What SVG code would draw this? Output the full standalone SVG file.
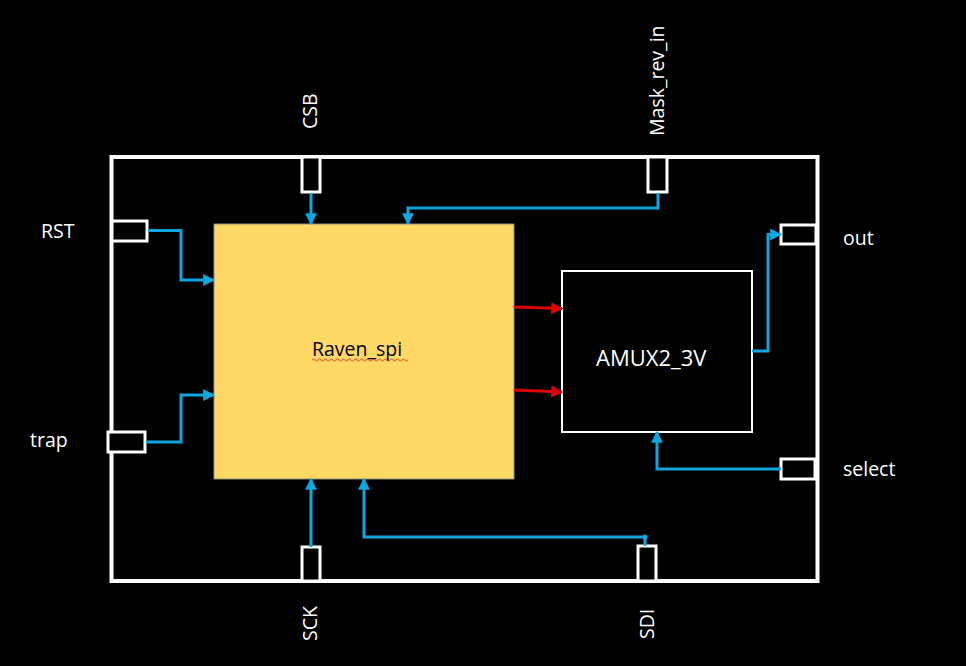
<svg xmlns="http://www.w3.org/2000/svg" width="966" height="666" viewBox="0 0 966 666">
<style>
.bg{fill:#000}
.frame{fill:none;stroke:#fff;stroke-width:4}
.pin{fill:#000;stroke:#fff;stroke-width:3}
.lbl{fill:#fff;font-family:"Open Sans","Liberation Sans",sans-serif;font-size:19.5px}
.blk{fill:#000;font-family:"Open Sans","Liberation Sans",sans-serif;font-size:19.5px}
.wire{fill:none;stroke:#0FA6E0;stroke-width:3;marker-end:url(#ab)}
.red{fill:none;stroke:#E00000;stroke-width:3;marker-end:url(#ar)}
</style>
<defs>
<marker id="ab" viewBox="0 0 10 10" refX="9" refY="5" markerWidth="4" markerHeight="4" orient="auto" markerUnits="strokeWidth"><path d="M0,0 L10,5 L0,10 z" fill="#0FA6E0"/></marker>
<marker id="ar" viewBox="0 0 10 10" refX="9" refY="5" markerWidth="4" markerHeight="4" orient="auto" markerUnits="strokeWidth"><path d="M0,0 L10,5 L0,10 z" fill="#E00000"/></marker>
</defs>
<rect class="bg" x="0" y="0" width="966" height="666"/>
<g id="frame"><rect class="frame" x="111.5" y="157" width="706" height="424"/></g>
<g id="raven_spi">
<rect x="214" y="224" width="300" height="255" fill="#FFD966" stroke="#8a8f7a" stroke-width="1"/>
<text class="blk" x="312" y="356">Raven_spi</text>
<path d="M312,360 q1.5,-2 3,0 t3,0 t3,0 t3,0 t3,0 t3,0 t3,0 t3,0 t3,0 t3,0 t3,0 t3,0 t3,0 t3,0 t3,0 t3,0 t3,0 t3,0 t3,0 t3,0 t3,0 t3,0 t3,0 t3,0 t3,0 t3,0 t3,0 t3,0 t3,0 t3,0 t3,0 t3,0" fill="none" stroke="#e02020" stroke-width="0.8"/>
</g>
<g id="amux"><rect x="562" y="271" width="190" height="161" fill="#000" stroke="#fff" stroke-width="2"/>
<text class="lbl" x="596" y="366" style="font-size:22px">AMUX2_3V</text></g>
<g id="pin_csb"><rect class="pin" x="302" y="157" width="18" height="35"/><text class="lbl" transform="translate(317,129) rotate(-90)">CSB</text></g>
<g id="pin_mask"><rect class="pin" x="648" y="157" width="19" height="35"/><text class="lbl" transform="translate(664,136) rotate(-90)">Mask_rev_in</text></g>
<g id="pin_rst"><rect class="pin" x="112" y="221" width="35" height="20"/><text class="lbl" x="41" y="238">RST</text></g>
<g id="pin_trap"><rect class="pin" x="108" y="432" width="37" height="20"/><text class="lbl" x="30" y="447">trap</text></g>
<g id="pin_out"><rect class="pin" x="781" y="225" width="35" height="19"/><text class="lbl" x="843" y="245">out</text></g>
<g id="pin_select"><rect class="pin" x="781" y="459" width="34" height="20"/><text class="lbl" x="843" y="476">select</text></g>
<g id="pin_sck"><rect class="pin" x="302" y="547" width="18" height="34"/><text class="lbl" transform="translate(317,641) rotate(-90)">SCK</text></g>
<g id="pin_sdi"><rect class="pin" x="638" y="546" width="18" height="35"/><text class="lbl" transform="translate(654,639) rotate(-90)">SDI</text></g>
<g id="connectors">
<path class="wire" d="M148,230.5 H181 V280 H214"/>
<path class="wire" d="M146,442 H181 V395 H214"/>
<path class="wire" d="M311,193 V224"/>
<path class="wire" d="M658,193 V208 H408 V224"/>
<path class="wire" d="M752,351 H768 V234.5 H781"/>
<path class="wire" d="M781,469 H657 V432"/>
<path class="wire" d="M311,547 V479"/>
<path class="wire" d="M645,546 V537 H364 V479"/>
<circle cx="645" cy="537" r="2.5" fill="#0FA6E0"/>
<path class="red" d="M514,307 L562,308.5"/>
<path class="red" d="M514,390 L562,392"/>
</g>
</svg>
